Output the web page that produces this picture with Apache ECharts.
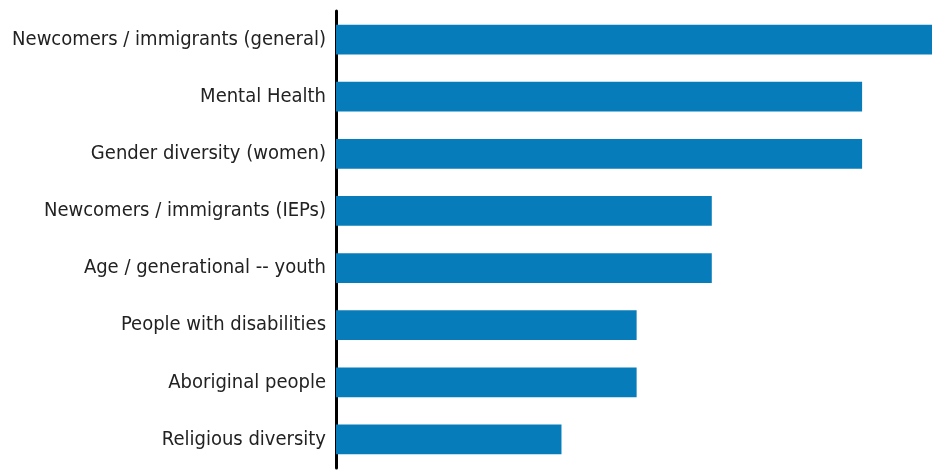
<!DOCTYPE html>
<html>
<head>
<meta charset="utf-8">
<script src="https://cdn.jsdelivr.net/npm/echarts@6/dist/echarts.min.js"></script>
<style>
  html, body { margin: 0; padding: 0; background: #fff; }
  #chart { width: 932px; height: 476px; }
</style>
</head>
<body>
<div id="chart"></div>
<script>
// categories listed bottom to top (yAxis category order)
const categories = [
  'Religious diversity',
  'Aboriginal people',
  'People with disabilities',
  'Age / generational -- youth',
  'Newcomers / immigrants (IEPs)',
  'Gender diversity (women)',
  'Mental Health',
  'Newcomers / immigrants (general)'
]
const counts = [3, 4, 4, 5, 5, 7, 7, 8]

const myChart = echarts.init(document.getElementById('chart'))

const option = {
  animation: false,
  grid: {
    left: 336,
    right: 0,
    top: 11,
    bottom: 8,
    outerBoundsMode: 'none',
    containLabel: false
  },
  xAxis: {
    type: 'value',
    min: 0,
    max: 7.93,
    show: false
  },
  yAxis: {
    type: 'category',
    data: categories,
    axisLine: {
      show: true,
      lineStyle: { color: '#000', width: 3 }
    },
    axisTick: { show: false },
    axisLabel: {
      margin: 10,
      color: '#222',
      fontSize: 20,
      fontFamily: '"Liberation Sans Narrow", "DejaVu Sans Condensed", sans-serif'
    }
  },
  series: [
    {
      type: 'bar',
      data: counts,
      barCategoryGap: '48%',
      itemStyle: { color: '#067dba' }
    }
  ]
}

option && myChart.setOption(option)
</script>
</body>
</html>
